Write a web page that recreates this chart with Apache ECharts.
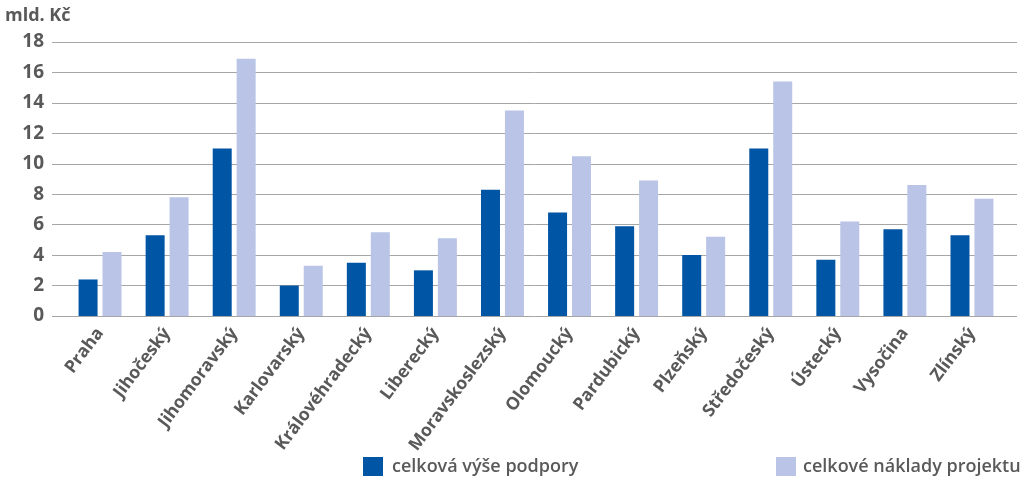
<!DOCTYPE html>
<html>
<head>
<meta charset="utf-8">
<script src="https://cdn.jsdelivr.net/npm/echarts@6/dist/echarts.min.js"></script>
<style>html,body{margin:0;padding:0;background:#fff}#c{width:1024px;height:482px}</style>
</head>
<body>
<div id="c"></div>
<script>
const categories = ['Praha','Jihočeský','Jihomoravský','Karlovarský','Královéhradecký','Liberecký','Moravskoslezský','Olomoucký','Pardubický','Plzeňský','Středočeský','Ústecký','Vysočina','Zlínský'];
const seriesNames = ['celková výše podpory','celkové náklady projektu'];
const podpora = [2.4, 5.3, 11.0, 2.0, 3.5, 3.0, 8.3, 6.8, 5.9, 4.0, 11.0, 3.7, 5.7, 5.3];
const naklady = [4.2, 7.8, 16.9, 3.3, 5.5, 5.1, 13.5, 10.5, 8.9, 5.2, 15.4, 6.2, 8.6, 7.7];
const yMin = 0, yMax = 18, yStep = 2;
const unitLabel = 'mld. Kč';

const txt = '#595959';
const font = '"Open Sans", "DejaVu Sans", sans-serif';
const chart = echarts.init(document.getElementById('c'));
chart.setOption({
  animation: false,
  backgroundColor: '#fff',
  textStyle: { fontFamily: font },
  title: { text: unitLabel, left: 0, top: 2, textStyle: { fontFamily: font, fontSize: 18, fontWeight: 'bold', color: txt } },
  grid: [
    { left: 66.5, right: 18.5, top: 42, bottom: 166 },
    { left: 52, right: 7, top: 42, bottom: 166 }
  ],
  legend: [
    { data: [seriesNames[0]], left: 358, top: 452, itemWidth: 20, itemHeight: 19, icon: 'rect',
      textStyle: { fontFamily: font, fontSize: 18, fontWeight: 600, color: txt, padding: [0,0,0,4] } },
    { data: [seriesNames[1]], left: 771, top: 452, itemWidth: 20, itemHeight: 19, icon: 'rect',
      textStyle: { fontFamily: font, fontSize: 18, fontWeight: 600, color: txt, padding: [0,0,0,2] } }
  ],
  xAxis: [
    { type: 'category', gridIndex: 0, data: categories,
      axisLine: { show: false }, axisTick: { show: false },
      axisLabel: { rotate: 53, interval: 0, margin: 14, fontFamily: font, fontSize: 17.5, fontWeight: 'bold', color: txt } },
    { type: 'value', gridIndex: 1, show: false, min: 0, max: 1 }
  ],
  yAxis: [
    { type: 'value', gridIndex: 0, min: yMin, max: yMax, interval: yStep, show: false, splitLine: { show: false } },
    { type: 'value', gridIndex: 1, min: yMin, max: yMax, interval: yStep,
      axisLine: { show: false }, axisTick: { show: false },
      axisLabel: { margin: 8, fontFamily: font, fontSize: 19, fontWeight: 'bold', color: txt },
      splitLine: { lineStyle: { color: '#a6a6a6', width: 1 } } }
  ],
  series: [
    { name: seriesNames[0], type: 'bar', xAxisIndex: 0, yAxisIndex: 0, data: podpora, barWidth: 19, barGap: '26%',
      itemStyle: { color: '#0055a5' } },
    { name: seriesNames[1], type: 'bar', xAxisIndex: 0, yAxisIndex: 0, data: naklady, barWidth: 19, barGap: '26%',
      itemStyle: { color: '#b9c4e6' } }
  ]
});
</script>
</body>
</html>
